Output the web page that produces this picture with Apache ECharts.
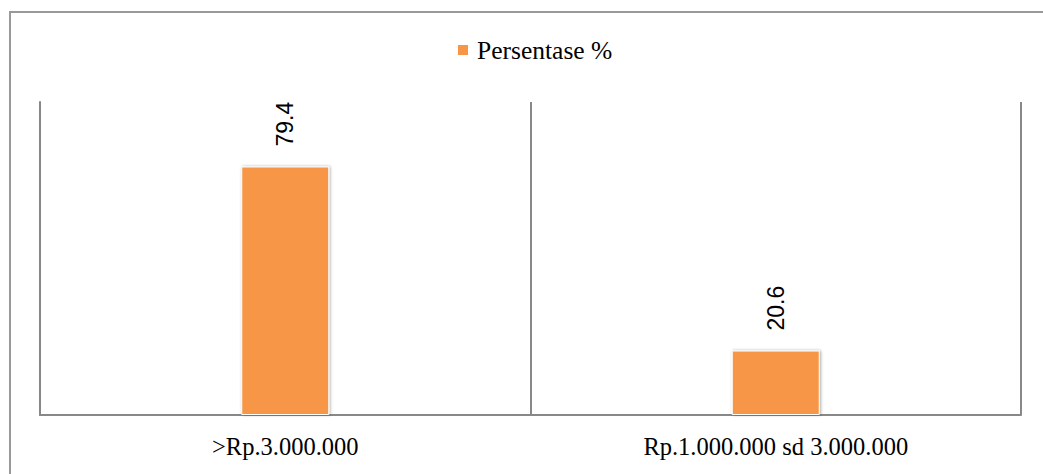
<!DOCTYPE html>
<html>
  <head>
    <meta charset="utf-8">
    <script src="https://cdn.jsdelivr.net/npm/echarts@6/dist/echarts.min.js"></script>
    <style>
      body { margin: 0; background: #fff; }
      .chart { width: 1043px; height: 474px; }
    </style>
  </head>
  <body>
    <div class="chart"></div>
    <script>
      var categories = [">Rp.3.000.000", "Rp.1.000.000 sd 3.000.000"];
      var seriesName = "Persentase %";
      var values = [79.4, 20.6];

      var chart = echarts.init(document.getElementsByClassName("chart")[0], null, { renderer: 'svg' });
      chart.setOption({
        animation: false,
        graphic: [{
          type: 'rect',
          shape: { x: 10, y: 12, width: 1045, height: 475 },
          style: { fill: 'none', stroke: '#999', lineWidth: 2 },
          silent: true
        }],
        legend: {
          data: [seriesName],
          top: 32,
          left: 451,
          itemWidth: 12,
          itemHeight: 12,
          icon: 'rect',
          itemGap: 6,
          textStyle: { fontFamily: 'Liberation Serif', fontSize: 25.5, color: '#000', padding: [0, 0, 0, 3] }
        },
        grid: { left: 40, right: 22, top: 102, bottom: 59 },
        xAxis: {
          type: 'category',
          data: categories,
          axisLine: { lineStyle: { color: '#888', width: 2 } },
          axisTick: { show: false },
          splitLine: { show: true, lineStyle: { color: '#888', width: 2 } },
          axisLabel: { fontFamily: 'Liberation Serif', fontSize: 24.5, color: '#000', margin: 19 }
        },
        yAxis: {
          type: 'value',
          min: 0,
          max: 100,
          axisLine: { show: true, lineStyle: { color: '#888', width: 2 } },
          axisTick: { show: false },
          axisLabel: { show: false },
          splitLine: { show: false }
        },
        series: [{
          name: seriesName,
          type: 'bar',
          data: values,
          barWidth: 88,
          itemStyle: {
            color: '#F79646',
            borderColor: '#fff',
            borderWidth: 1,
            shadowBlur: 3,
            shadowColor: 'rgba(0,0,0,0.35)',
            shadowOffsetX: 1
          },
          label: {
            show: true,
            position: 'top',
            rotate: 90,
            align: 'left',
            verticalAlign: 'middle',
            distance: 20,
            fontFamily: 'Liberation Sans',
            fontSize: 23,
            color: '#000'
          }
        }]
      });
    </script>
  </body>
</html>
